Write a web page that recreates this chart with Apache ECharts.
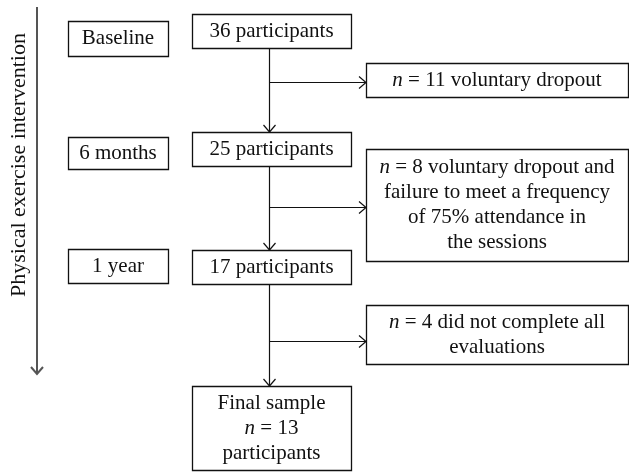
<!DOCTYPE html>
<html>
<head>
<meta charset="utf-8">
<script src="https://cdn.jsdelivr.net/npm/echarts@6/dist/echarts.min.js"></script>
<style>
  html, body { margin: 0; padding: 0; background: #fff; }
  #chart { width: 629px; height: 472px; }
</style>
</head>
<body>
<div id="chart"></div>
<script>
// 流程图数据
var sideTitle = 'Physical exercise intervention';
var stages = ['Baseline', '6 months', '1 year'];
var participants = [36, 25, 17, 13];
var dropouts = [11, 8, 4];
var dropoutReasons = [
  ['voluntary dropout'],
  ['voluntary dropout and', 'failure to meet a frequency', 'of 75% attendance in', 'the sessions'],
  ['did not complete all', 'evaluations']
];

// 版面位置（像素坐标，y向下）
var stageX = [68, 168];
var countX = [192, 351];
var dropX = [366, 628];
var stageY = [[21, 56], [137, 169], [249, 283]];
var countY = [[14, 48], [132, 166], [250, 284], [386, 470]];
var dropY = [[63, 97], [149, 261], [305, 364]];
var branchY = [82.5, 207.5, 341.5];
var flowX = 269.5;
var axisX = 37;
var axisY = [7, 374];

var FONT = '"Liberation Serif", "DejaVu Serif", serif';
var INK = '#111';

(function () {
  // 1 生成所有方框
  var boxes = [];
  stages.forEach(function (s, i) {
    boxes.push({ x0: stageX[0], x1: stageX[1], y0: stageY[i][0], y1: stageY[i][1], text: s });
  });
  participants.forEach(function (n, i) {
    var last = i === participants.length - 1;
    var text = last ? 'Final sample\n{i|n} = ' + n + '\nparticipants' : n + ' participants';
    boxes.push({ x0: countX[0], x1: countX[1], y0: countY[i][0], y1: countY[i][1], text: text });
  });
  dropouts.forEach(function (n, i) {
    var lines = dropoutReasons[i].slice();
    lines[0] = '{i|n} = ' + n + ' ' + lines[0];
    boxes.push({ x0: dropX[0], x1: dropX[1], y0: dropY[i][0], y1: dropY[i][1], text: lines.join('\n') });
  });

  // 2 生成连线（带箭头）
  var links = [];
  for (var i = 0; i < participants.length - 1; i++) {
    links.push({ from: [flowX, countY[i][1]], to: [flowX, countY[i + 1][0]], dir: 'down', color: INK, width: 1.2 });
  }
  branchY.forEach(function (y) {
    links.push({ from: [flowX, y], to: [dropX[0], y], dir: 'right', color: INK, width: 1.2 });
  });
  links.push({ from: [axisX, axisY[0]], to: [axisX, axisY[1]], dir: 'down', color: '#555', width: 2 });

  var option = {
    animation: false,
    grid: { left: 0, right: 0, top: 0, bottom: 0 },
    xAxis: { type: 'value', min: 0, max: 629, show: false },
    yAxis: { type: 'value', min: 0, max: 472, inverse: true, show: false },
    series: [
      {
        type: 'custom',
        name: 'links',
        data: links.map(function (l, i) { return [i]; }),
        renderItem: function (params, api) {
          var l = links[params.dataIndex];
          var a = api.coord(l.from);
          var b = api.coord(l.to);
          var head;
          if (l.dir === 'down') {
            head = [[b[0] - 6, b[1] - 7], [b[0], b[1]], [b[0] + 6, b[1] - 7]];
          } else {
            head = [[b[0] - 7, b[1] - 6], [b[0], b[1]], [b[0] - 7, b[1] + 6]];
          }
          var st = { stroke: l.color, lineWidth: l.width, fill: null };
          return {
            type: 'group',
            children: [
              { type: 'line', shape: { x1: a[0], y1: a[1], x2: b[0], y2: b[1] }, style: st },
              { type: 'polyline', shape: { points: head }, style: st }
            ]
          };
        },
        z: 1
      },
      {
        type: 'custom',
        name: 'boxes',
        data: boxes.map(function (b, i) { return [i]; }),
        renderItem: function (params, api) {
          var b = boxes[params.dataIndex];
          var p0 = api.coord([b.x0, b.y0]);
          var p1 = api.coord([b.x1, b.y1]);
          return {
            type: 'group',
            children: [
              {
                type: 'rect',
                shape: { x: p0[0] + 0.5, y: p0[1] + 0.5, width: p1[0] - p0[0], height: p1[1] - p0[1] },
                style: { fill: '#fff', stroke: INK, lineWidth: 1.3 }
              },
              {
                type: 'text',
                x: (p0[0] + p1[0]) / 2,
                y: (p0[1] + p1[1]) / 2,
                style: {
                  text: b.text,
                  fontFamily: FONT,
                  fontSize: 21,
                  lineHeight: 25,
                  fill: INK,
                  align: 'center',
                  verticalAlign: 'middle',
                  rich: {
                    i: { fontStyle: 'italic', fontFamily: FONT, fontSize: 21, lineHeight: 25, fill: INK }
                  }
                }
              }
            ]
          };
        },
        z: 2
      },
      {
        type: 'custom',
        name: 'title',
        data: [[0]],
        renderItem: function (params, api) {
          var p = api.coord([19, 165]);
          return {
            type: 'text',
            x: p[0],
            y: p[1],
            rotation: Math.PI / 2,
            style: {
              text: sideTitle,
              fontFamily: FONT,
              fontSize: 22,
              fill: INK,
              align: 'center',
              verticalAlign: 'middle'
            }
          };
        },
        z: 2
      }
    ]
  };

  var myChart = echarts.init(document.getElementById('chart'));
  myChart.setOption(option);
})();
</script>
</body>
</html>
